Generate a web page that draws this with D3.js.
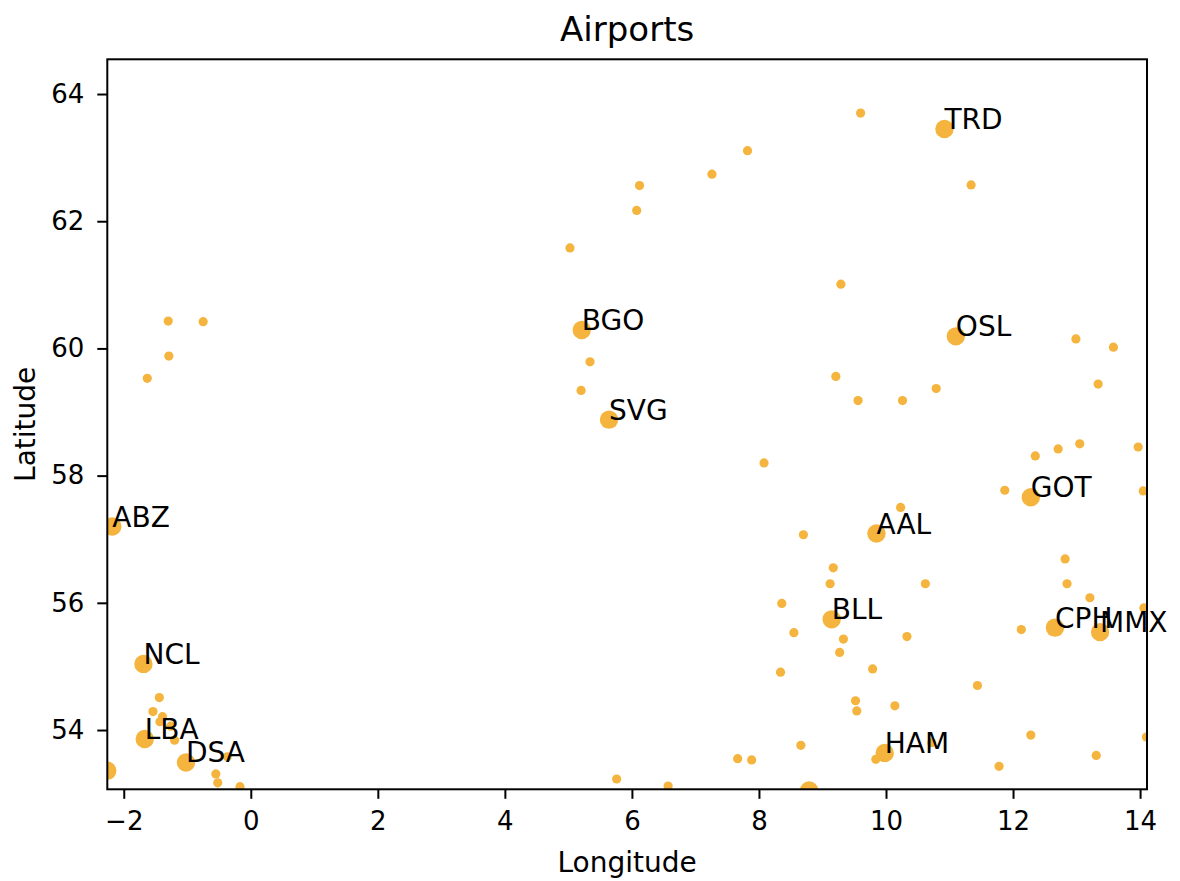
<!DOCTYPE html>
<html>
<head>
<meta charset="utf-8">
<script src="https://cdn.jsdelivr.net/npm/d3@7"></script>
<style>
  html, body { margin: 0; padding: 0; background: #fff; }
  svg { display: block; font-family: "DejaVu Sans", sans-serif; }
</style>
</head>
<body>
<svg id="chart" width="1180" height="881"></svg>
<script>
// ---- data ----
const codes = [
  "TRD","OSL","BGO","SVG","GOT","AAL","ABZ","BLL","CPH","MMX","NCL","LBA","DSA","HAM",
  "","",
  "","","","",
  "","","","","","","",
  "","","","","","","","","","",
  "","","","","","",
  "","","",
  "","","","","","","","","","","","","","",
  "","","","","",
  "","","","","","","",
  "","","","",
  "","","","","","","","","",""
];
const lons = [
  10.92, 11.10, 5.21, 5.64, 12.28, 9.85, -2.18, 9.145, 12.66, 13.37, -1.69, -1.67, -1.02, 9.98,
  -2.26, 8.79,
  -1.30, -0.75, -1.29, -1.63,
  5.34, 5.20, 5.025, 6.075, 6.12, 7.26, 7.82,
  9.60, 11.34, 9.29, 12.99, 13.58, 9.21, 13.34, 10.79, 9.56, 10.26,
  12.71, 13.05, 13.97, 12.35, 11.87, 14.05,
  8.08, 8.70, 10.23,
  9.17, 9.12, 10.62, 8.36, 8.55, 9.33, 10.33, 9.27, 9.79, 8.34, 11.44, 9.52, 9.54, 10.14,
  12.82, 12.85, 13.21, 14.06, 12.13,
  12.28, 13.31, 11.78, 8.66, 9.84, 10.72, 14.10,
  7.665, 7.885, 5.76, 6.57,
  -1.44, -1.54, -1.39, -1.43, -1.26, -1.20, -0.37, -0.55, -0.52, -0.17
];
const lats = [
  63.45, 60.19, 60.29, 58.88, 57.66, 57.09, 57.20, 55.74, 55.61, 55.54, 55.04, 53.86, 53.49, 53.64,
  53.36, 53.05,
  60.43, 60.42, 59.88, 59.53,
  59.79, 59.34, 61.58, 62.17, 62.56, 62.74, 63.11,
  63.70, 62.57, 61.01, 60.15, 60.02, 59.56, 59.44, 59.37, 59.18, 59.18,
  58.42, 58.50, 58.45, 58.31, 57.77, 57.76,
  58.20, 57.07, 57.50,
  56.55, 56.30, 56.30, 55.99, 55.53, 55.43, 55.47, 55.22, 54.96, 54.91, 54.70, 54.46, 54.30, 54.38,
  56.69, 56.30, 56.08, 55.92, 55.58,
  53.92, 53.60, 53.43, 53.76, 53.54, 53.80, 53.89,
  53.55, 53.53, 53.23, 53.12,
  54.51, 54.29, 54.21, 54.13, 54.06, 53.84, 53.58, 53.31, 53.17, 53.11
];
// relative traffic size (1 = small airport, 4 = major airport)
const sizes = lons.map((_, i) => i < 16 ? 4 : 1);
const xTicks = [-2, 0, 2, 4, 6, 8, 10, 12, 14];
const yTicks = [54, 56, 58, 60, 62, 64];
const xDomain = [-2.259, 14.109];
const yDomain = [53.068, 64.546];

// ---- layout ----
const svg = d3.select("#chart");
const L = 107.3, R = 1147, T = 59.3, B = 789.3;
const x = d3.scaleLinear().domain(xDomain).range([L, R]);
const y = d3.scaleLinear().domain(yDomain).range([B, T]);
const r = d3.scaleSqrt().domain([0, 4]).range([0, 9.2]);
const color = "#f4b43e";
const fmt = d => (d < 0 ? "\u2212" + Math.abs(d) : String(d));

const data = lons.map((lon, i) => ({ code: codes[i], lon, lat: lats[i], size: sizes[i] }));

svg.append("defs").append("clipPath").attr("id", "clip")
  .append("rect").attr("x", L).attr("y", T).attr("width", R - L).attr("height", B - T);

// points
svg.append("g").attr("clip-path", "url(#clip)")
  .selectAll("circle").data(data).join("circle")
  .attr("cx", d => x(d.lon)).attr("cy", d => y(d.lat))
  .attr("r", d => r(d.size))
  .attr("fill", color);

// axes
const xAxis = svg.append("g").attr("transform", `translate(0,${B})`)
  .call(d3.axisBottom(x).tickValues(xTicks).tickFormat(fmt).tickSize(9.5).tickPadding(13));
const yAxis = svg.append("g").attr("transform", `translate(${L},0)`)
  .call(d3.axisLeft(y).tickValues(yTicks).tickFormat(fmt).tickSize(10).tickPadding(13));
[xAxis, yAxis].forEach(g => {
  g.select(".domain").remove();
  g.selectAll(".tick line").attr("stroke", "#000").attr("stroke-width", 2);
  g.selectAll(".tick text").attr("fill", "#000").style("font-size", "26px")
    .style("font-family", "'DejaVu Sans', sans-serif");
});

// frame
svg.append("rect").attr("x", L).attr("y", T).attr("width", R - L).attr("height", B - T)
  .attr("fill", "none").attr("stroke", "#000").attr("stroke-width", 2);

// labels
svg.append("g").selectAll("text").data(data.filter(d => d.code)).join("text")
  .attr("x", d => x(d.lon)).attr("y", d => y(d.lat))
  .attr("font-size", 28).attr("fill", "#000")
  .text(d => d.code);

// title & axis labels
svg.append("text").attr("x", (L + R) / 2).attr("y", 41).attr("text-anchor", "middle")
  .attr("font-size", 34).attr("fill", "#000").text("Airports");
svg.append("text").attr("x", (L + R) / 2).attr("y", 872).attr("text-anchor", "middle")
  .attr("font-size", 28).attr("fill", "#000").text("Longitude");
svg.append("text").attr("transform", `translate(35,${(T + B) / 2}) rotate(-90)`)
  .attr("text-anchor", "middle").attr("font-size", 28).attr("fill", "#000").text("Latitude");
</script>
</body>
</html>
